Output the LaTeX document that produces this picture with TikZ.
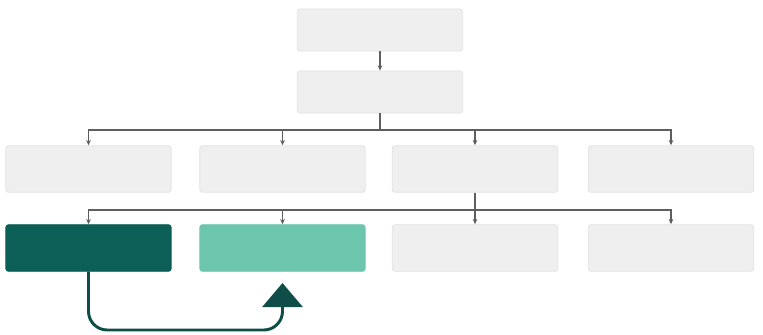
\documentclass[tikz,border=0pt]{standalone}
\usepackage{xcolor}
\usetikzlibrary{arrows.meta}

\definecolor{boxgray}{HTML}{EFEFEF}
\definecolor{edgegray}{HTML}{E2E2E2}
\definecolor{linegray}{HTML}{5E5E5E}
\definecolor{darkteal}{HTML}{0C5F56}
\definecolor{lightteal}{HTML}{6CC6AE}
\definecolor{arrowteal}{HTML}{0F4E48}

\tikzset{
  card/.style={draw=edgegray, fill=boxgray, rounded corners=2pt, line width=0.6pt,
               minimum width=124pt, minimum height=35pt, inner sep=0pt},
  topcard/.style={card, minimum height=31.5pt},
  link/.style={draw=linegray, line width=1.4pt, -{Stealth[length=4pt,width=3.5pt]}},
  bus/.style={draw=linegray, line width=1.4pt},
  flow/.style={draw=arrowteal, line width=2.2pt, rounded corners=14pt,
               -{Triangle[length=18pt,width=30pt]}}
}

\begin{document}
\begin{tikzpicture}[x=0.75pt,y=-0.75pt]
    \useasboundingbox (0,0) rectangle (763,335);

    % Top of the tree
    \node[topcard] (goal) at (380,30) {};
    \node[topcard] (sub) at (380,92) {};
    \draw[link] (goal) -- (sub);

    % First row
    \node[card] (a1) at (88.5,169) {};
    \node[card] (a2) at (282.5,169) {};
    \node[card] (a3) at (475,169) {};
    \node[card] (a4) at (671,169) {};

    % Second row
    \node[card, draw=darkteal, fill=darkteal] (b1) at (88.5,248) {};
    \node[card, draw=lightteal, fill=lightteal] (b2) at (282.5,248) {};
    \node[card] (b3) at (475,248) {};
    \node[card] (b4) at (671,248) {};

    % Bus under the second box
    \coordinate (j1) at (380,130);
    \draw[bus] (sub) -- (j1);
    \draw[link] (j1) -| (a1);
    \draw[link] (j1) -| (a2);
    \draw[link] (j1) -| (a3);
    \draw[link] (j1) -| (a4);

    % Bus under the third box of the first row
    \coordinate (j2) at (475,210);
    \draw[bus] (a3) -- (j2);
    \draw[link] (j2) -| (b1);
    \draw[link] (j2) -| (b2);
    \draw[link] (j2) -- (b3);
    \draw[link] (j2) -| (b4);

    % Move from the dark box to the light one
    \coordinate (turn) at (282.5,330);
    \coordinate (tip) at (282.5,283);
    \draw[flow] (b1.south) |- (turn) -- (tip);
\end{tikzpicture}
\end{document}
